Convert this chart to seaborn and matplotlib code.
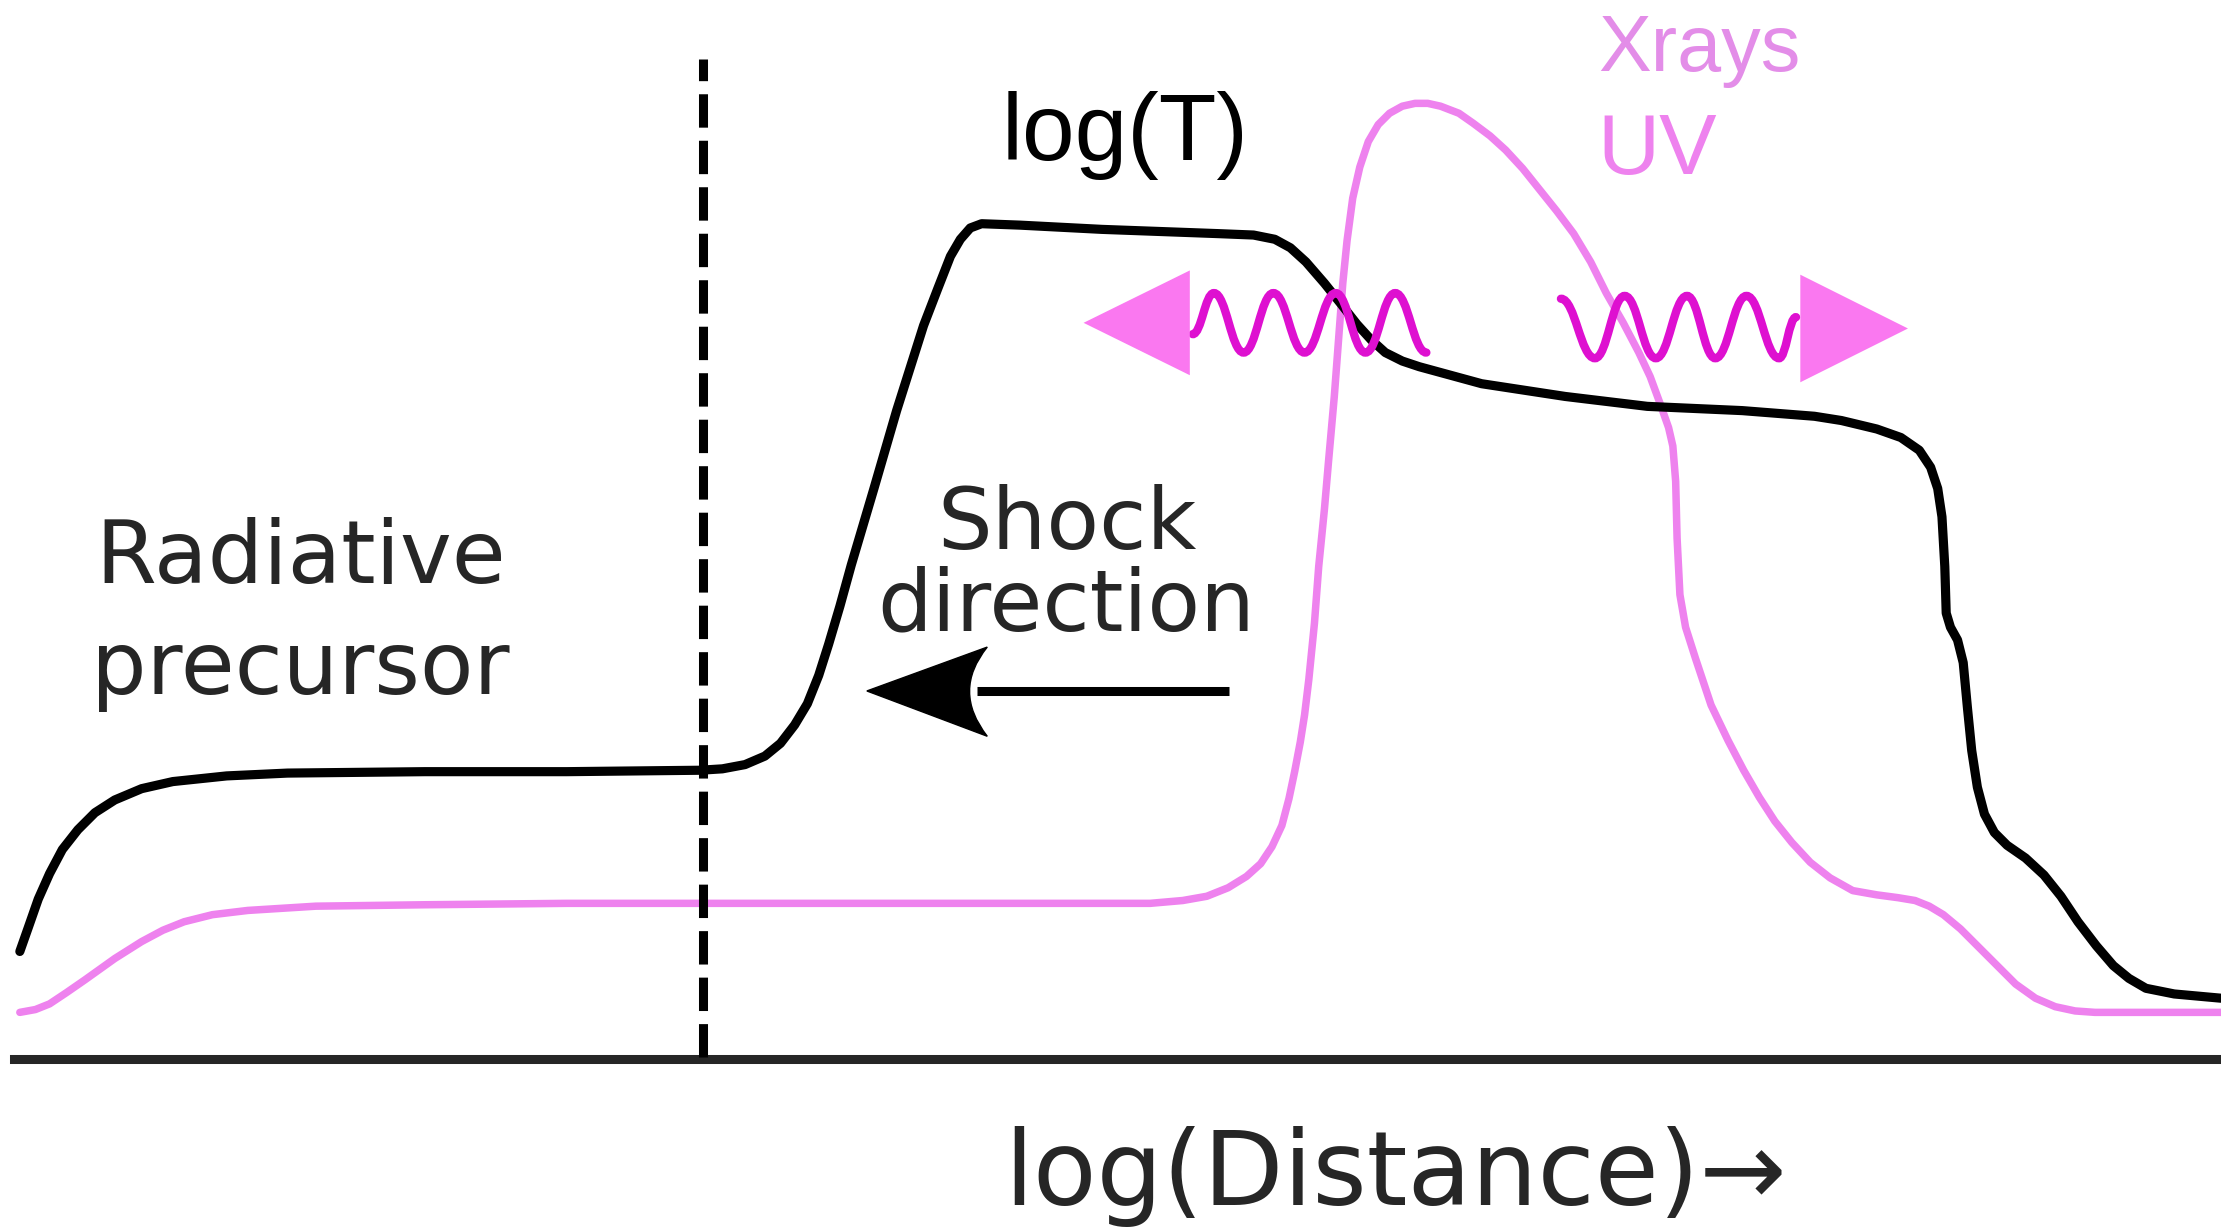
import pandas as pd
import matplotlib
matplotlib.use('Agg')
import matplotlib.pyplot as plt
from matplotlib.path import Path
from matplotlib.patches import PathPatch, Polygon
import seaborn as sns

# Schematic of a radiative shock.
# x: distance (left -> right), y: picture height measured downward (axis is inverted)
temp_x = [14, 20, 27, 35, 44, 55, 67, 81, 100, 122, 160, 203, 300, 400, 494, 510, 526, 540,
          551, 561, 570, 578, 585, 593, 601, 617, 633, 652, 662, 671, 678, 685, 693, 720,
          778, 860, 885, 900, 911, 922, 935, 947, 958, 968, 978, 990, 1002, 1046, 1105,
          1163, 1230, 1281, 1300, 1325, 1342, 1355, 1363, 1368, 1371, 1373, 1374, 1377,
          1382, 1386, 1389, 1392, 1396, 1401, 1408, 1417, 1430, 1443, 1455, 1467, 1480,
          1492, 1503, 1515, 1535, 1568]
temp_y = [672, 655, 635, 617, 600, 586, 574, 565, 557, 552, 548, 546, 545, 545, 544, 543, 540, 534,
          525, 512, 497, 477, 455, 428, 399, 345, 290, 230, 204, 181, 169, 161, 158, 159,
          162, 165, 166, 169, 175, 185, 200, 215, 229, 240, 249, 255, 259, 271, 280,
          287, 290, 294, 297, 303, 309, 318, 330, 345, 365, 400, 433, 443,
          452, 468, 500, 530, 556, 575, 588, 597, 606, 618, 633, 651, 668,
          682, 691, 698, 702, 705]

uv_x = [14, 25, 35, 47, 60, 81, 100, 115, 130, 150, 175, 223, 300, 400, 600, 812, 835, 852,
        867, 880, 890, 898, 905, 910, 914, 918, 921, 924, 928, 931, 935, 938, 942, 945, 948,
        951, 955, 960, 966, 973, 981, 990, 999, 1008, 1017, 1030, 1040, 1052, 1063, 1075,
        1087, 1099, 1111, 1123, 1134, 1146, 1157, 1165, 1172, 1178, 1181, 1183, 1184, 1186,
        1190, 1197, 1208, 1220, 1231, 1242, 1253, 1265, 1278, 1292, 1308, 1325, 1340, 1352,
        1362, 1372, 1384, 1395, 1409, 1423, 1437, 1451, 1465, 1479, 1568]
uv_y = [715, 713, 709, 701, 692, 677, 665, 657, 651, 646, 643, 640, 639, 638, 638, 638, 636, 633,
        627, 619, 610, 598, 583, 564, 545, 524, 505, 480, 440, 400, 360, 325, 280, 240, 200,
        170, 140, 118, 100, 88, 80, 75, 73, 73, 75, 80, 87, 96, 106, 119,
        134, 149, 165, 185, 207, 228, 249, 266, 285, 302, 315, 340, 380, 420,
        443, 465, 498, 523, 544, 563, 580, 595, 609, 620, 629, 632, 634, 636,
        640, 646, 656, 667, 681, 695, 705, 711, 714, 715, 715]

shock_front_x = 496
baseline_y = 748

# photon wiggles: successive extrema of each wave
left_wave_x = [842, 857, 878, 899, 921, 943, 964, 985, 1007]
left_wave_y = [236, 207, 249, 207, 249, 207, 249, 207, 249]
right_wave_x = [1102, 1126, 1147, 1169, 1191, 1211, 1233, 1256, 1268]
right_wave_y = [211, 253, 209, 253, 209, 253, 209, 253, 224]

sns.set_theme(style='white')
plt.rcParams['font.family'] = ['DejaVu Sans']

fig = plt.figure(figsize=(22.21, 12.29), dpi=100)
ax = fig.add_axes([0, 0, 1, 1])
ax.set_xlim(0, 1568)
ax.set_ylim(868, 0)

temp_df = pd.DataFrame({'x': temp_x, 'y': temp_y})
uv_df = pd.DataFrame({'x': uv_x, 'y': uv_y})
sns.lineplot(data=uv_df, x='x', y='y', sort=False, estimator=None, color='violet',
             linewidth=5.4, ax=ax, zorder=2, solid_joinstyle='round')
sns.lineplot(data=temp_df, x='x', y='y', sort=False, estimator=None, color='black',
             linewidth=6.6, ax=ax, zorder=3, solid_joinstyle='round')

# shock front
ax.plot([shock_front_x, shock_front_x], [42, 750], color='black', lw=6.5,
        ls=(1.3, (3.7, 1.45)), zorder=4)

# distance axis
for s in ['left', 'right', 'top']:
    ax.spines[s].set_visible(False)
ax.spines['bottom'].set_position(('data', baseline_y))
ax.spines['bottom'].set_bounds(10, 1568)
ax.spines['bottom'].set_linewidth(6.5)
ax.spines['bottom'].set_color('#262626')
ax.set_xticks([])
ax.set_yticks([])
ax.set_xlabel('')
ax.set_ylabel('')


def wave_path(xs, ys):
    verts = [(xs[0], ys[0])]
    codes = [Path.MOVETO]
    for i in range(len(xs) - 1):
        d = 0.42 * (xs[i + 1] - xs[i])
        verts += [(xs[i] + d, ys[i]), (xs[i + 1] - d, ys[i + 1]), (xs[i + 1], ys[i + 1])]
        codes += [Path.CURVE4] * 3
    return Path(verts, codes)


wave_color = '#DE10D0'
for wx, wy in [(left_wave_x, left_wave_y), (right_wave_x, right_wave_y)]:
    ax.add_patch(PathPatch(wave_path(wx, wy), fill=False, edgecolor=wave_color,
                           lw=6.0, capstyle='round', zorder=5))

tri_color = '#FA78F0'
ax.add_patch(Polygon([(765, 228), (840, 191), (840, 265)], closed=True,
                     color=tri_color, lw=0, zorder=6))
ax.add_patch(Polygon([(1347, 232), (1271, 194), (1271, 270)], closed=True,
                     color=tri_color, lw=0, zorder=6))

# shock direction arrow
ax.plot([690, 868], [488, 488], color='black', lw=6.5, solid_capstyle='butt', zorder=5)
head = Path([(612, 488), (697, 457), (672, 488), (697, 520), (612, 488)],
            [Path.MOVETO, Path.LINETO, Path.CURVE3, Path.CURVE3, Path.CLOSEPOLY])
ax.add_patch(PathPatch(head, facecolor='black', edgecolor='black', lw=1, zorder=5))

txt = '#262626'
ax.text(212, 412, 'Radiative', fontsize=63, color=txt, ha='center', va='baseline')
ax.text(212, 490, 'precursor', fontsize=63, color=txt, ha='center', va='baseline')
ax.text(753, 388, 'Shock', fontsize=62, color=txt, ha='center', va='baseline')
ax.text(753, 445, 'direction', fontsize=62, color=txt, ha='center', va='baseline')
ax.text(985, 851, 'log(Distance)→', fontsize=75, color=txt, ha='center', va='baseline')

ax.text(794, 113, 'log(T)', fontsize=68, color='black', ha='center', va='baseline',
        family='Liberation Sans')
ax.text(1128, 50, 'Xrays', fontsize=57, color='#E38DE8', ha='left', va='baseline',
        family='Liberation Sans')
ax.text(1128, 123, 'UV', fontsize=62, color='violet', ha='left', va='baseline',
        family='Liberation Sans')

fig.savefig('out.png', dpi=100)
